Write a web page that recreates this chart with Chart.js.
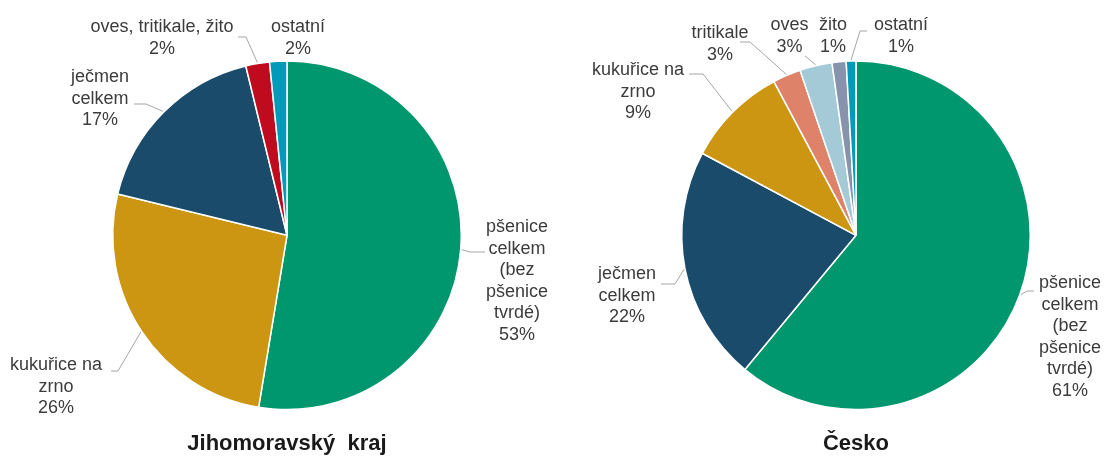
<!DOCTYPE html>
<html><head><meta charset="utf-8">
<script src="https://cdn.jsdelivr.net/npm/chart.js@4.4.0/dist/chart.umd.min.js"></script>
<style>
html,body{margin:0;padding:0;background:#fff;}
#wrap{position:relative;width:1107px;height:457px;overflow:hidden;}
.box{position:absolute;top:0;height:457px;}
</style></head><body>
<div id="wrap">
<div class="box" style="left:0;width:560px"><canvas id="c1" width="560" height="457"></canvas></div>
<div class="box" style="left:560px;width:547px"><canvas id="c2" width="547" height="457"></canvas></div>
</div>
<script>
// ---- data ----
const jmkCategories = ['pšenice\ncelkem\n(bez\npšenice\ntvrdé)', 'kukuřice na\nzrno', 'ječmen\ncelkem', 'oves, tritikale, žito', 'ostatní'];
const jmkValues = [52.6, 26.2, 17.4, 2.2, 1.6];
const czCategories = ['pšenice\ncelkem\n(bez\npšenice\ntvrdé)', 'ječmen\ncelkem', 'kukuřice na\nzrno', 'tritikale', 'oves', 'žito', 'ostatní'];
const czValues = [61.0, 21.8, 9.4, 2.6, 3.0, 1.3, 0.9];
const chartTitles = ['Jihomoravský  kraj', 'Česko'];

// ---- styles ----
const jmkColors = ['#00966E', '#CC9612', '#1A4B6A', '#C00A1E', '#009BB9'];
const czColors = ['#00966E', '#1A4B6A', '#CC9612', '#DE836A', '#A4CAD8', '#8792AC', '#009BB9'];
const FONT = '"Liberation Sans", Arial, sans-serif';

// label placement (text centre x, first line centre y, leader elbow points)
const jmkLabelLayout = [
  {x: 517, y: 227, leader: [[470, 252], [485, 252]]},
  {x: 56, y: 365, leader: [[118, 371], [111, 371]]},
  {x: 100, y: 77, leader: [[146, 104], [134, 104]]},
  {x: 162, y: 27, leader: [[246, 37], [238, 37]]},
  {x: 298, y: 27, leader: null}
];
const czLabelLayout = [
  {x: 510, y: 283, leader: [[467, 291], [474, 291]]},
  {x: 67, y: 274, leader: [[115, 284], [101, 284]]},
  {x: 78, y: 70, leader: [[143, 74], [129, 74]]},
  {x: 160, y: 33, leader: [[190, 42], [180, 42]]},
  {x: 229.5, y: 25, leader: [[245, 56]]},
  {x: 273, y: 25, leader: null},
  {x: 341, y: 25, leader: [[300, 31], [307, 31]]}
];

const outLabels = {
  id: 'outLabels',
  afterDatasetsDraw(chart, args, opts) {
    const ctx = chart.ctx;
    const meta = chart.getDatasetMeta(0);
    const data = chart.data.datasets[0].data;
    const total = data.reduce((a, b) => a + b, 0);
    ctx.save();
    meta.data.forEach((arc, i) => {
      const L = opts.layout[i];
      const p = arc.getProps(['x', 'y', 'startAngle', 'endAngle', 'outerRadius'], true);
      const mid = (p.startAngle + p.endAngle) / 2;
      if (L.leader) {
        ctx.beginPath();
        ctx.moveTo(p.x + Math.cos(mid) * (p.outerRadius + 1), p.y + Math.sin(mid) * (p.outerRadius + 1));
        L.leader.forEach(q => ctx.lineTo(q[0], q[1]));
        ctx.strokeStyle = '#a6a6a6';
        ctx.lineWidth = 1;
        ctx.stroke();
      }
      const lines = chart.data.labels[i].split('\n').concat(Math.round(data[i] / total * 100) + '%');
      ctx.font = '18px ' + FONT;
      ctx.fillStyle = '#3c3c3c';
      ctx.textAlign = 'center';
      ctx.textBaseline = 'middle';
      lines.forEach((t, k) => ctx.fillText(t, L.x, L.y + k * 21.6));
    });
    ctx.restore();
  }
};

function makePie(id, labels, values, colors, title, pad, layout) {
  return new Chart(document.getElementById(id), {
    type: 'pie',
    data: {labels: labels, datasets: [{data: values, backgroundColor: colors, borderColor: '#ffffff', borderWidth: 1.5}]},
    options: {
      responsive: false,
      devicePixelRatio: 1,
      animation: false,
      rotation: 0,
      layout: {padding: pad},
      plugins: {
        legend: {display: false},
        tooltip: {enabled: false},
        title: {display: true, position: 'bottom', text: title, color: '#1a1a1a',
                font: {family: FONT, size: 22, weight: 'bold'}, padding: {top: 20, bottom: 0}},
        outLabels: {layout: layout}
      }
    },
    plugins: [outLabels]
  });
}

makePie('c1', jmkCategories, jmkValues, jmkColors, chartTitles[0], {left: 112, right: 98, top: 60, bottom: 0}, jmkLabelLayout);
makePie('c2', czCategories, czValues, czColors, chartTitles[1], {left: 121, right: 76, top: 60, bottom: 0}, czLabelLayout);
</script>
</body></html>
